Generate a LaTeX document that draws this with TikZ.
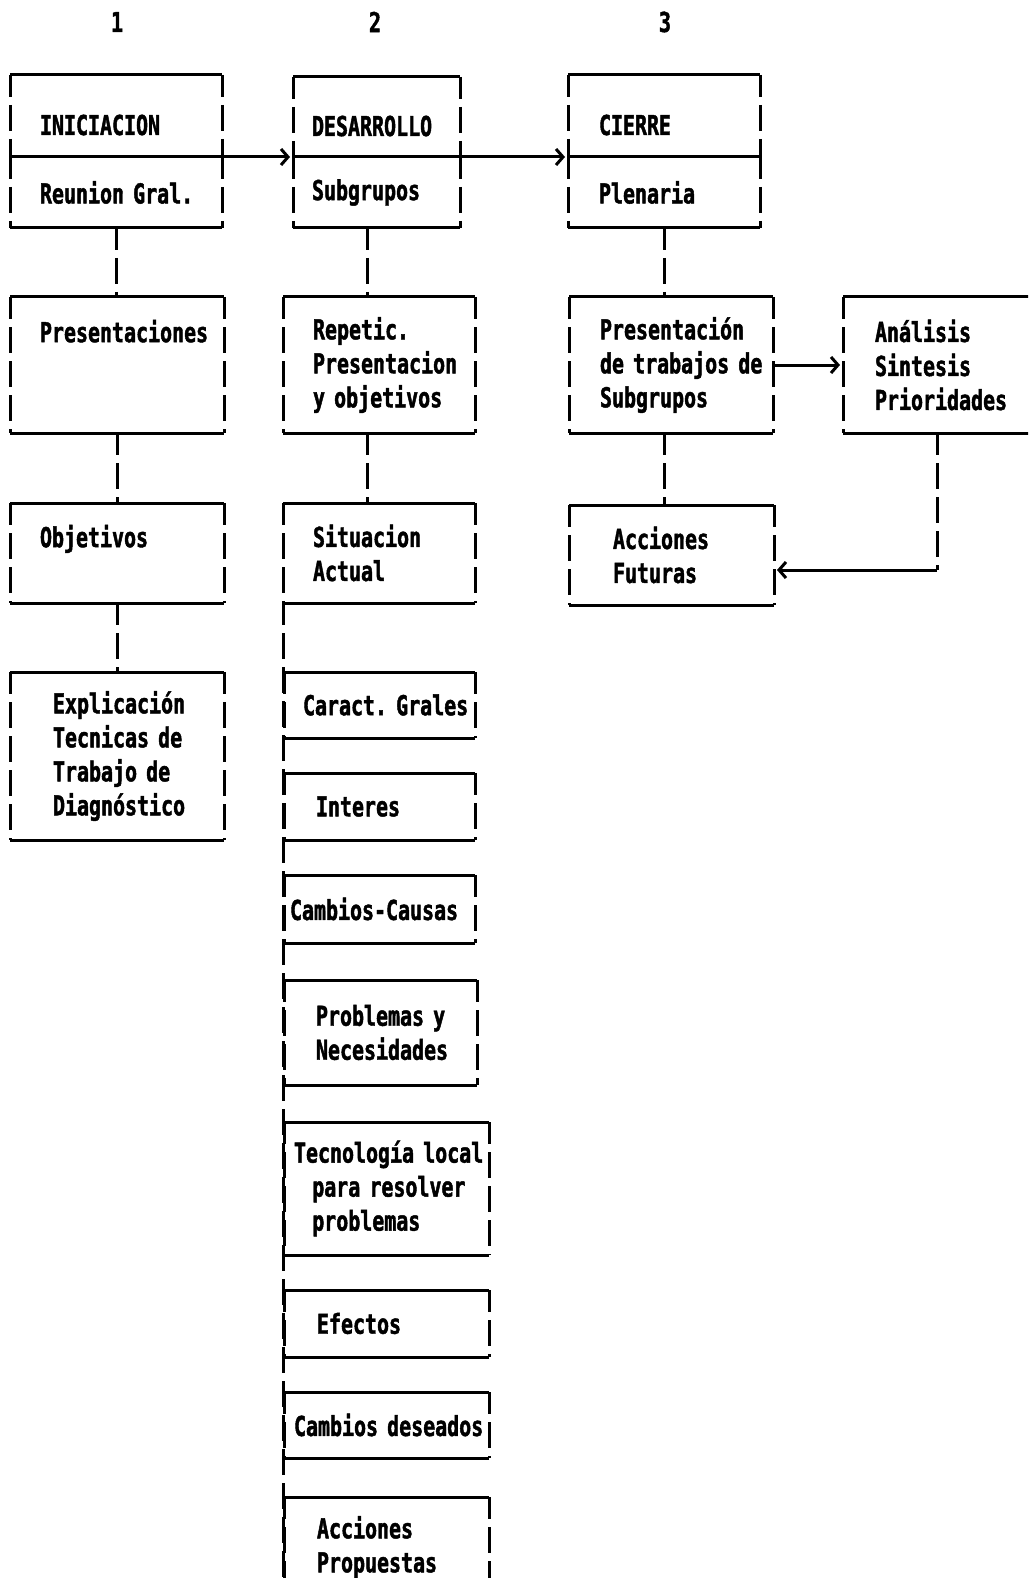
\documentclass[tikz,border=0pt]{standalone}
\usepackage{fontspec}
\usetikzlibrary{arrows.meta}
\newfontfamily\dotfont[FakeStretch=0.728,FakeBold=1.6]{DejaVu Sans Mono Bold}
\newcommand{\dotsize}{\dotfont\fontsize{27.4pt}{34pt}\selectfont}

\tikzset{
  rule/.style={line width=3pt},
  wall/.style={line width=3pt, dash pattern=on 26pt off 8pt, dash phase=4pt},
  cell/.style n args={3}{anchor=north west, inner sep=0pt, outer sep=0pt,
    text width=#1, minimum height=#2, font=\dotsize,
    execute at begin node={\parindent=0pt\leftskip=#3\rightskip=0pt plus 1fil\relax},
    append after command={
      (\tikzlastnode.north west) edge[rule] (\tikzlastnode.north east)
      (\tikzlastnode.south west) edge[rule] (\tikzlastnode.south east)
      (\tikzlastnode.north west) edge[wall] (\tikzlastnode.south west)
      (\tikzlastnode.north east) edge[wall] (\tikzlastnode.south east)}},
  title/.style={text height=38pt, text depth=0pt},
  head/.style={font=\dotsize, inner sep=0pt},
  link/.style={wall},
  flow/.style={rule, -{Straight Barb[length=7pt,width=16pt,line width=3pt]}, shorten >=3pt}
}

\begin{document}
\begin{tikzpicture}[x=1pt,y=-1pt]
  \useasboundingbox (0,0) rectangle (1028,1578);
  \clip (0,0) rectangle (1028,1578);

  % column numbers
  \node[head] (h1) at (117,22) {1};
  \node[head] (h2) at (375,22) {2};
  \node[head] (h3) at (665,22) {3};

  % column 1
  \node[cell={212pt}{82pt}{30pt}, title] (ini) at (10,75) {INICIACION};
  \node[cell={212pt}{71pt}{30pt}] (inigr) at (10,157) {Reunion~Gral.};
  \node[cell={214pt}{136pt}{30pt}] (pres) at (10,297) {Presentaciones\\~\\~};
  \node[cell={214pt}{100pt}{30pt}] (obj) at (10,503) {Objetivos\\~};
  \node[cell={214pt}{168pt}{43pt}] (expl) at (10,672) {Explicación\\Tecnicas~de\\Trabajo~de\\Diagnóstico};

  % column 2
  \node[cell={167pt}{80pt}{19pt}, title] (des) at (293,77) {DESARROLLO};
  \node[cell={167pt}{71pt}{19pt}] (desgr) at (293,157) {Subgrupos};
  \node[cell={192pt}{136pt}{30pt}] (rep) at (283,297) {Repetic.\\Presentacion\\y~objetivos};
  \node[cell={192pt}{100pt}{30pt}] (sit) at (283,503) {Situacion\\Actual};
  \node[cell={191pt}{66pt}{19pt}] (car) at (284,672) {Caract.~Grales};
  \node[cell={191pt}{67pt}{32pt}] (inte) at (284,773) {Interes};
  \node[cell={191pt}{68pt}{6pt}] (cau) at (284,875) {Cambios-Causas};
  \node[cell={193pt}{105pt}{32pt}] (prob) at (284,980) {Problemas~y\\Necesidades};
  \node[cell={205pt}{133pt}{10pt}] (tec) at (284,1122) {Tecnología~local\\~~para~resolver\\~~problemas};
  \node[cell={205pt}{67pt}{33pt}] (efe) at (284,1290) {Efectos};
  \node[cell={205pt}{66pt}{10pt}] (cde) at (284,1392) {Cambios~deseados};
  \node[cell={205pt}{100pt}{33pt}] (acp) at (284,1497) {Acciones\\Propuestas};

  % column 3
  \node[cell={192pt}{82pt}{31pt}, title] (cie) at (568,75) {CIERRE};
  \node[cell={192pt}{71pt}{31pt}] (ciegr) at (568,157) {Plenaria};
  \node[cell={204pt}{136pt}{31pt}] (pst) at (569,297) {Presentación\\de~trabajos~de\\Subgrupos};
  \node[cell={205pt}{100pt}{44pt}] (acf) at (569,505) {Acciones\\Futuras};
  \node[cell={200pt}{136pt}{32pt}] (ana) at (843,297) {Análisis\\Sintesis\\Prioridades};

  % phases
  \draw[flow] (ini.south east) -- (des.south west);
  \draw[flow] (des.south east) -- (cie.south west);

  % steps
  \draw[link] (inigr.south) -- (inigr.south |- pres.north);
  \draw[link] (pres.south) -- (pres.south |- obj.north);
  \draw[link] (obj.south) -- (obj.south |- expl.north);
  \draw[link] ([xshift=-9pt]desgr.south) -- ([xshift=-9pt]desgr.south |- rep.north);
  \draw[link] ([xshift=-12pt]rep.south) -- ([xshift=-12pt]rep.south |- sit.north);
  \draw[link] (sit.south west) -- (sit.south west |- acp.south);
  \draw[link] (ciegr.south) -- (ciegr.south |- pst.north);
  \draw[link] (ciegr.south |- pst.south) -- (ciegr.south |- acf.north);

  % plenary loop
  \draw[flow] (pst.east) -- (ana.west);
  \coordinate (fb) at (937,570);
  \draw[link] (ana.south -| fb) -- (fb);
  \draw[flow] (fb) -- (acf.east |- fb);
\end{tikzpicture}
\end{document}
